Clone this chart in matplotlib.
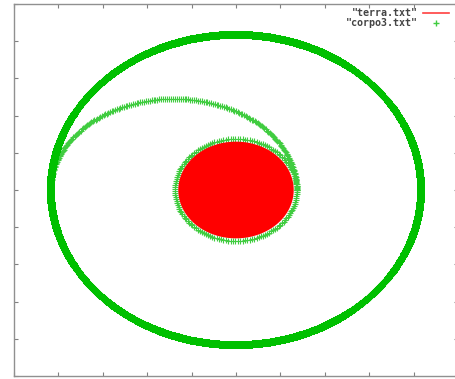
import numpy as np
import matplotlib.pyplot as plt

# radii (axis units, range -5..5)
earth_radius = 1.30       # terra.txt, filled disk
inner_orbit = 1.37        # corpo3.txt, parking orbit round the earth
outer_orbit = 4.17        # corpo3.txt, final orbit
transfer_b = 2.45         # semi-minor axis of the transfer arc

x_ticks = [-5, -4, -3, -2, -1, 0, 1, 2, 3, 4, 5]
y_ticks = [-5, -4, -3, -2, -1, 0, 1, 2, 3, 4, 5]

green = '#00c000'
light_green = '#40cc40'

fig = plt.figure(figsize=(4.56, 3.79), dpi=100)
ax = fig.add_axes([14 / 456, 3 / 379, 444 / 456, 372 / 379])

# earth
th = np.linspace(0, 2 * np.pi, 400)
ax.fill(earth_radius * np.cos(th), earth_radius * np.sin(th), color='red', lw=0, zorder=3)
ax.plot([], [], color='#ff4040', lw=1.2, label='"terra.txt"')

# body: parking orbit, transfer arc, outer orbit
t1 = np.linspace(0, 2 * np.pi, 160)
x1 = inner_orbit * np.cos(t1)
y1 = inner_orbit * np.sin(t1)

a = (inner_orbit + outer_orbit) / 2
c = (inner_orbit - outer_orbit) / 2
t2 = np.linspace(0, np.pi, 200)
x2 = c + a * np.cos(t2)
y2 = transfer_b * np.sin(t2)

t3 = np.linspace(0, 2 * np.pi, 1500)
x3 = outer_orbit * np.cos(t3)
y3 = outer_orbit * np.sin(t3)

ax.plot(x1, y1, '+', color=light_green, ms=4.5, mew=0.8)
ax.plot(x2, y2, '+', color=light_green, ms=4.5, mew=0.8)
ax.plot(x3, y3, '+', color=green, ms=6, mew=1.5)
ax.plot([], [], '+', color=light_green, ms=4, mew=1, label='"corpo3.txt"')

ax.set_xlim(-5, 5)
ax.set_ylim(-5, 5)
ax.set_xticks(x_ticks)
ax.set_yticks(y_ticks)
ax.tick_params(direction='in', length=3, width=0.8, color='#808080',
               top=True, right=True, labelbottom=False, labelleft=False)
for s in ax.spines.values():
    s.set_color('#909090')
    s.set_linewidth(1)

leg = ax.legend(loc='upper right', bbox_to_anchor=(449 / 456, 1 - 8 / 379),
                bbox_transform=fig.transFigure, frameon=False, markerfirst=False,
                prop={'family': 'DejaVu Sans Mono', 'size': 7.2, 'weight': 'bold'},
                handlelength=2.6, handletextpad=0.5, labelspacing=0.05,
                borderpad=0, borderaxespad=0)
for txt in leg.get_texts():
    txt.set_color('#444444')

fig.savefig('out.png', dpi=100)
